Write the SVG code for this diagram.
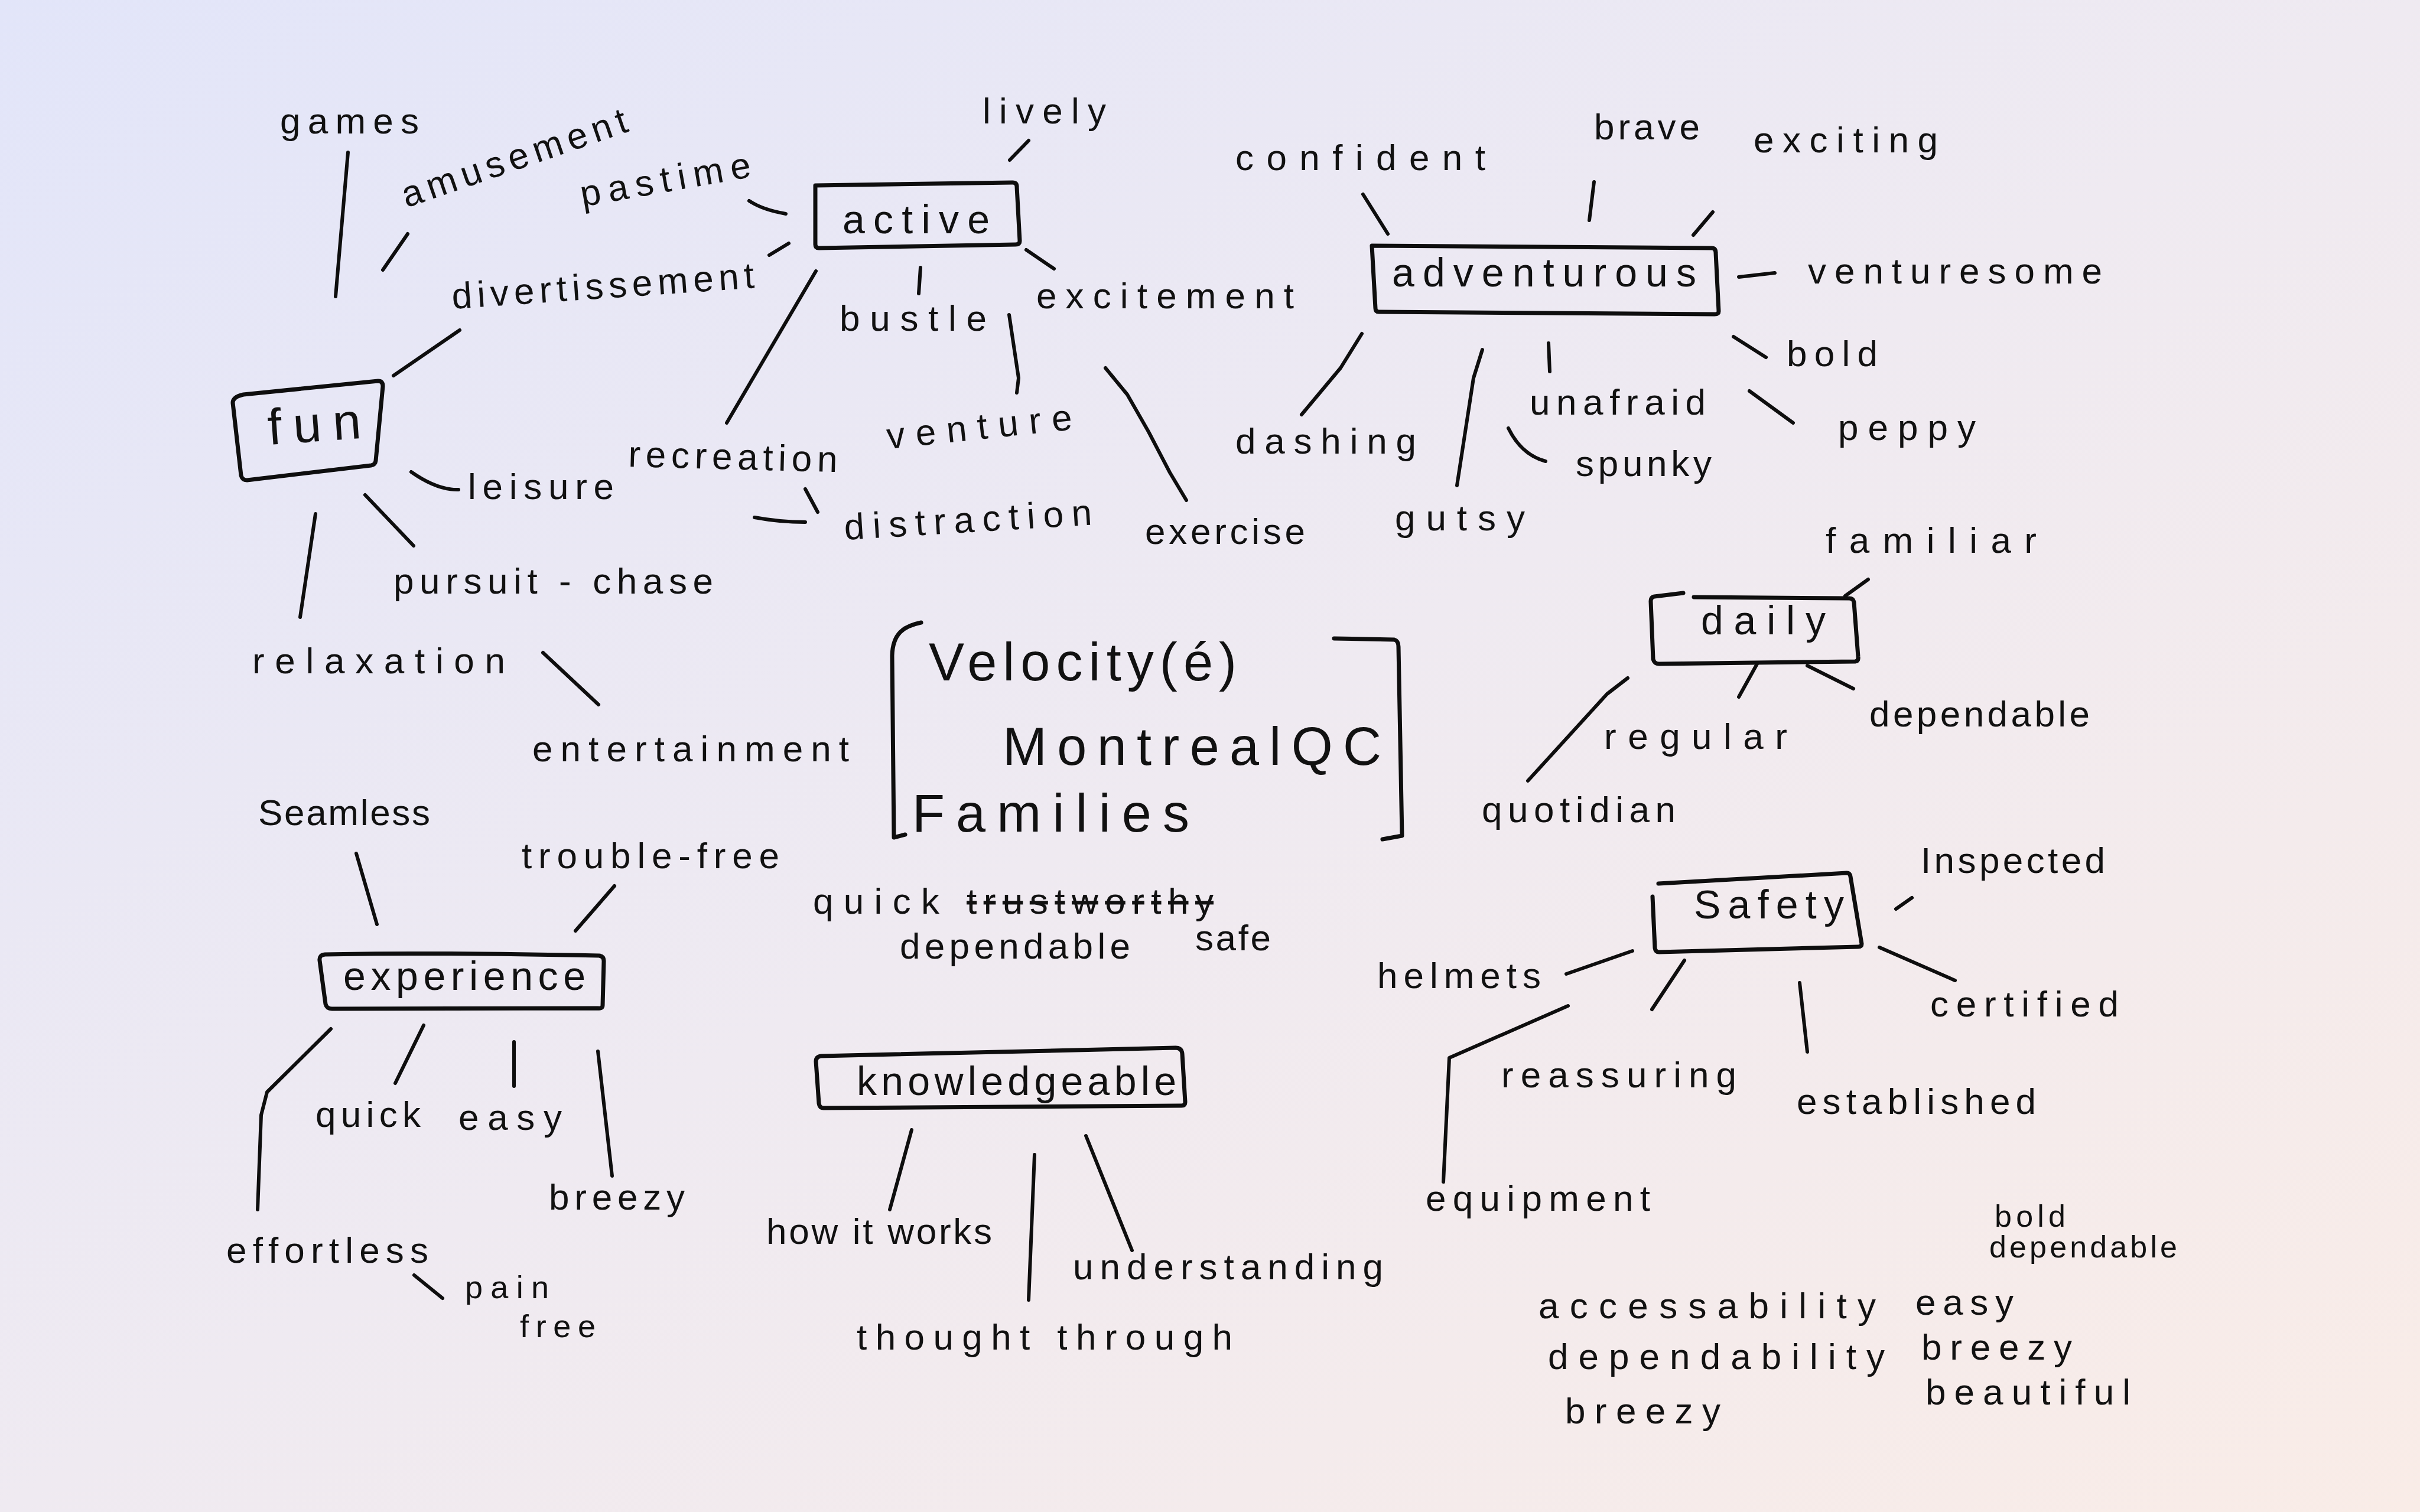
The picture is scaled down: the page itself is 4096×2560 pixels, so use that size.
<svg xmlns="http://www.w3.org/2000/svg" width="4096" height="2560" viewBox="0 0 4096 2560">
<defs>
<linearGradient id="bg" x1="0" y1="0" x2="1" y2="1">
<stop offset="0" stop-color="#e2e5f9"/>
<stop offset="0.5" stop-color="#efeaf1"/>
<stop offset="1" stop-color="#f9ece7"/>
</linearGradient>
<style>
text{font-family:"Liberation Sans","DejaVu Sans",sans-serif;fill:#111;font-size:62px}
.k{font-size:68px}
.big{font-size:90px}
.sm{font-size:52px}
.pf{font-size:54px}
.c{fill:none;stroke:#0e0e0e;stroke-width:6;stroke-linecap:round;stroke-linejoin:round}
.b{fill:none;stroke:#0e0e0e;stroke-width:7;stroke-linecap:round;stroke-linejoin:round}
</style>
</defs>
<rect x="0" y="0" width="4096" height="2560" fill="url(#bg)"/>

<g id="connectors">
<path class="c" d="M589,258 L568,502"/>
<path class="c" d="M690,396 L648,457"/>
<path class="c" d="M1268,340 Q1290,355 1330,362"/>
<path class="c" d="M1335,412 L1302,432"/>
<path class="c" d="M778,559 L666,636"/>
<path class="c" d="M1741,238 L1709,271"/>
<path class="c" d="M1737,423 L1784,455"/>
<path class="c" d="M1558,453 L1555,497"/>
<path class="c" d="M1708,533 L1724,640 L1721,665"/>
<path class="c" d="M1381,459 L1230,716"/>
<path class="c" d="M1871,623 L1908,668 L1944,731 L1980,800 L2008,847"/>
<path class="c" d="M696,799 Q740,830 776,829"/>
<path class="c" d="M1277,876 Q1320,884 1363,884"/>
<path class="c" d="M1363,828 L1384,867"/>
<path class="c" d="M534,870 L508,1045"/>
<path class="c" d="M618,838 L700,924"/>
<path class="c" d="M919,1105 L1013,1193"/>
<path class="c" d="M2307,329 L2349,396"/>
<path class="c" d="M2698,308 L2690,373"/>
<path class="c" d="M2899,359 L2866,398"/>
<path class="c" d="M2943,469 L3004,462"/>
<path class="c" d="M2934,570 L2989,605"/>
<path class="c" d="M2961,662 L3035,716"/>
<path class="c" d="M2305,565 L2269,623 L2203,702"/>
<path class="c" d="M2509,592 L2494,640 L2466,822"/>
<path class="c" d="M2621,581 L2623,629"/>
<path class="c" d="M2553,725 Q2575,770 2616,781"/>
<path class="c" d="M3162,981 L3123,1009"/>
<path class="c" d="M2974,1124 L2943,1180"/>
<path class="c" d="M3059,1127 L3137,1166"/>
<path class="c" d="M2755,1148 L2720,1175 L2586,1322"/>
<path class="c" d="M3236,1520 L3209,1539"/>
<path class="c" d="M2763,1610 L2651,1649"/>
<path class="c" d="M2851,1626 L2796,1709"/>
<path class="c" d="M3046,1664 L3059,1781"/>
<path class="c" d="M3181,1604 L3309,1660"/>
<path class="c" d="M2654,1703 L2453,1791 L2443,2001"/>
<path class="c" d="M603,1445 L638,1565"/>
<path class="c" d="M1040,1500 L974,1576"/>
<path class="c" d="M560,1742 L452,1849 L442,1888 L436,2048"/>
<path class="c" d="M717,1736 L669,1834"/>
<path class="c" d="M870,1764 L870,1839"/>
<path class="c" d="M1012,1780 L1036,1991"/>
<path class="c" d="M701,2159 L749,2198"/>
<path class="c" d="M1543,1913 L1506,2048"/>
<path class="c" d="M1751,1955 L1741,2201"/>
<path class="c" d="M1838,1923 L1916,2117"/>
</g>

<g id="node-fun">
<path class="b" d="M412,668 L640,645 Q648,645 648,654 L636,780 Q635,787 628,788 L418,813 Q410,813 408,805 L394,682 Q394,672 412,668 Z"/>
<text x="455" y="753" style="font-size:86px" textLength="158" transform="rotate(-4 455 753)">fun</text>
</g>
<g id="node-games"><text x="474" y="226" textLength="235">games</text></g>
<g id="node-amusement"><text x="688" y="352" textLength="400" transform="rotate(-19 688 352)">amusement</text></g>
<g id="node-pastime"><text x="986" y="350" textLength="292" transform="rotate(-10 986 350)">pastime</text></g>
<g id="node-divertissement"><text x="766" y="523" textLength="513" transform="rotate(-4 766 523)">divertissement</text></g>
<g id="node-leisure"><text x="792" y="845" textLength="247">leisure</text></g>
<g id="node-pursuit"><text x="666" y="1005" textLength="541">pursuit - chase</text></g>
<g id="node-relaxation"><text x="427" y="1140" textLength="428">relaxation</text></g>
<g id="node-entertainment"><text x="901" y="1289" textLength="536">entertainment</text></g>

<g id="node-active">
<path class="b" d="M1380,314 L1714,309 Q1721,309 1721,316 L1726,408 Q1726,414 1719,414 L1386,420 Q1380,420 1380,414 Z"/>
<text class="k" x="1426" y="395" textLength="249">active</text>
</g>
<g id="node-lively"><text x="1663" y="209" textLength="209">lively</text></g>
<g id="node-bustle"><text x="1421" y="560" textLength="249">bustle</text></g>
<g id="node-excitement"><text x="1754" y="522" textLength="436">excitement</text></g>
<g id="node-recreation"><text x="1063" y="790" textLength="354" transform="rotate(1.5 1063 790)">recreation</text></g>
<g id="node-venture"><text x="1503" y="760" textLength="315" transform="rotate(-6 1503 760)">venture</text></g>
<g id="node-distraction"><text x="1430" y="914" textLength="420" transform="rotate(-3.5 1430 914)">distraction</text></g>
<g id="node-exercise"><text x="1938" y="921" textLength="271">exercise</text></g>

<g id="node-adventurous">
<path class="b" d="M2322,416 L2897,420 Q2904,420 2904,428 L2909,527 Q2909,532 2902,532 L2334,528 Q2328,528 2328,522 Z"/>
<text class="k" x="2356" y="485" textLength="515">adventurous</text>
</g>
<g id="node-confident"><text x="2091" y="288" textLength="423">confident</text></g>
<g id="node-brave"><text x="2698" y="236" textLength="179">brave</text></g>
<g id="node-exciting"><text x="2968" y="258" textLength="312">exciting</text></g>
<g id="node-venturesome"><text x="3060" y="480" textLength="498">venturesome</text></g>
<g id="node-bold"><text x="3024" y="620" textLength="154">bold</text></g>
<g id="node-peppy"><text x="3111" y="745" textLength="233">peppy</text></g>
<g id="node-dashing"><text x="2091" y="768" textLength="306">dashing</text></g>
<g id="node-unafraid"><text x="2589" y="702" textLength="298">unafraid</text></g>
<g id="node-spunky"><text x="2667" y="806" textLength="230">spunky</text></g>
<g id="node-gutsy"><text x="2361" y="898" textLength="220">gutsy</text></g>

<g id="node-center">
<path class="b" d="M1559,1054 C1530,1060 1511,1072 1510,1110 L1513,1418 L1532,1413"/>
<path class="b" d="M2258,1081 L2360,1083 Q2367,1085 2367,1095 L2373,1415 L2340,1421"/>
<text class="big" x="1572" y="1152" textLength="521">Velocity(é)</text>
<text class="big" x="1697" y="1295" textLength="641">MontrealQC</text>
<text class="big" x="1544" y="1408" textLength="469">Families</text>
</g>
<g id="node-quick-center"><text x="1376" y="1547" textLength="214">quick</text></g>
<g id="node-trustworthy"><text x="1636" y="1547" textLength="418" style="text-decoration:line-through">trustworthy</text></g>
<g id="node-dependable-center"><text x="1523" y="1623" textLength="390">dependable</text></g>
<g id="node-safe"><text x="2023" y="1609" textLength="128">safe</text></g>

<g id="node-daily">
<path class="b" d="M2849,1004 L2800,1010 Q2794,1011 2794,1018 L2798,1116 Q2800,1124 2808,1124 L3140,1120 Q3146,1119 3145,1112 L3138,1020 Q3137,1013 3130,1013 L2867,1011"/>
<text class="k" x="2879" y="1074" textLength="211">daily</text>
</g>
<g id="node-familiar"><text x="3090" y="936" textLength="357">familiar</text></g>
<g id="node-regular"><text x="2715" y="1268" textLength="310">regular</text></g>
<g id="node-dependable-daily"><text x="3164" y="1230" textLength="373">dependable</text></g>
<g id="node-quotidian"><text x="2508" y="1392" textLength="328">quotidian</text></g>

<g id="node-safety">
<path class="b" d="M2807,1496 L3126,1478 Q3131,1478 3132,1484 L3151,1598 Q3151,1603 3145,1603 L2808,1612 Q2802,1612 2801,1605 L2797,1518"/>
<text class="k" x="2867" y="1555" textLength="254">Safety</text>
</g>
<g id="node-inspected"><text x="3251" y="1478" textLength="312">Inspected</text></g>
<g id="node-helmets"><text x="2331" y="1673" textLength="277">helmets</text></g>
<g id="node-certified"><text x="3267" y="1721" textLength="319">certified</text></g>
<g id="node-reassuring"><text x="2541" y="1841" textLength="398">reassuring</text></g>
<g id="node-established"><text x="3041" y="1886" textLength="405">established</text></g>
<g id="node-equipment"><text x="2413" y="2050" textLength="380">equipment</text></g>

<g id="node-notes">
<text class="sm" x="3376" y="2077" textLength="120">bold</text>
<text class="sm" x="3367" y="2129" textLength="318">dependable</text>
<text x="2604" y="2232" textLength="571">accessability</text>
<text x="3242" y="2226" textLength="166">easy</text>
<text x="2620" y="2318" textLength="570">dependability</text>
<text x="3252" y="2302" textLength="255">breezy</text>
<text x="3259" y="2378" textLength="347">beautiful</text>
<text x="2649" y="2410" textLength="263">breezy</text>
</g>

<g id="node-experience">
<path class="b" d="M550,1616 Q700,1612 1014,1618 Q1022,1619 1022,1627 L1020,1702 Q1020,1708 1012,1707 L562,1708 Q553,1708 551,1700 L541,1626 Q540,1617 550,1616 Z"/>
<text class="k" x="581" y="1676" textLength="410">experience</text>
</g>
<g id="node-seamless"><text x="437" y="1397" textLength="291">Seamless</text></g>
<g id="node-troublefree"><text x="883" y="1470" textLength="436">trouble-free</text></g>
<g id="node-quick"><text x="534" y="1908" textLength="178">quick</text></g>
<g id="node-easy"><text x="776" y="1913" textLength="175">easy</text></g>
<g id="node-breezy"><text x="929" y="2048" textLength="230">breezy</text></g>
<g id="node-effortless"><text x="383" y="2138" textLength="342">effortless</text></g>
<g id="node-painfree">
<text class="pf" x="787" y="2198" textLength="142">pain</text>
<text class="pf" x="880" y="2264" textLength="128">free</text>
</g>

<g id="node-knowledgeable">
<path class="b" d="M1390,1788 L1990,1774 Q2000,1774 2001,1784 L2006,1866 Q2006,1872 2000,1872 L1394,1876 Q1387,1876 1386,1868 L1381,1797 Q1381,1789 1390,1788 Z"/>
<text class="k" x="1450" y="1854" textLength="541">knowledgeable</text>
</g>
<g id="node-howitworks"><text x="1297" y="2106" textLength="382">how it works</text></g>
<g id="node-understanding"><text x="1816" y="2166" textLength="525">understanding</text></g>
<g id="node-thoughtthrough"><text x="1450" y="2285" textLength="636">thought through</text></g>
</svg>
